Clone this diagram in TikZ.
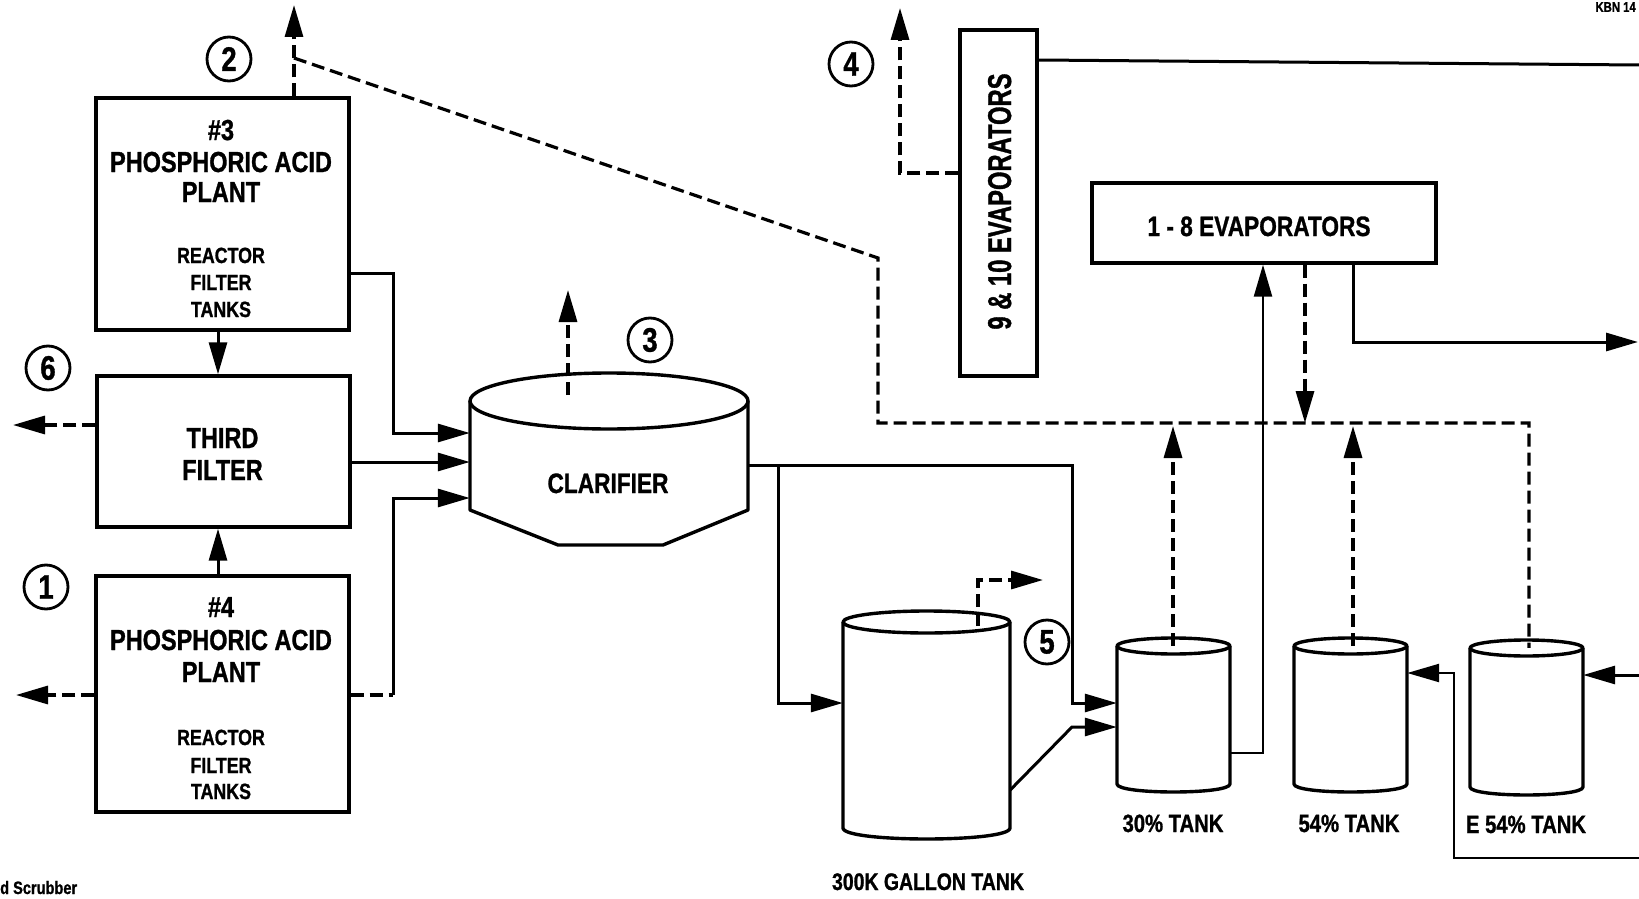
\documentclass[tikz,border=0pt]{standalone}
\usepackage{fontspec}
\setmainfont{Liberation Sans}
\newfontfamily\cb{Liberation Sans}[FakeStretch=0.81, FakeBold=1]
\newfontfamily\cbn{Liberation Sans}[FakeStretch=0.72, FakeBold=1]
\usetikzlibrary{arrows.meta,fit}
\newcommand\drawcyl[6]{%
  \node[fit={(#2,#4) (#3,#5)}, inner sep=0pt] (#1) {};
  \draw[vessel] (#2,#4) -- (#2,#5) .. controls (#2,{#5+1.333*#6}) and (#3,{#5+1.333*#6}) .. (#3,#5) -- (#3,#4);
  \draw[vessel] ({(#2+#3)/2},#4) ellipse [x radius={(#3-#2)/2}, y radius=#6];
}
\begin{document}
\begin{tikzpicture}[x=1pt,y=-1pt,
  box/.style={draw, line width=3.4pt, inner sep=0pt},
  vessel/.style={line width=3.4pt, line join=round},
  pipe/.style={line width=3pt},
  thinpipe/.style={line width=2.4pt},
  dpipe/.style={line width=3.2pt, dash pattern=on 13pt off 6pt},
  arrowend/.style={-{Triangle[length=32pt,width=18pt]}},
  big/.style={font=\cb\bfseries\fontsize{29}{29}\selectfont, inner sep=0pt, anchor=base},
  small/.style={font=\cb\bfseries\fontsize{22}{22}\selectfont, inner sep=0pt, anchor=base},
  lbl/.style={font=\cb\bfseries\fontsize{25}{25}\selectfont, inner sep=0pt, anchor=base},
  num/.style={draw, circle, line width=2.8pt, minimum size=44pt, inner sep=0pt, font=\cb\bfseries\fontsize{34}{34}\selectfont}
]
\path[use as bounding box] (0,0) rectangle (1639,899);
\clip (0,0) rectangle (1639,899);

% ---------- boxes ----------
\node[box, minimum width=253pt, minimum height=232pt] (p3) at (222.5,214) {};
\node[box, minimum width=253pt, minimum height=151pt] (tf) at (223.5,451.5) {};
\node[box, minimum width=253pt, minimum height=236pt] (p4) at (222.5,694) {};
\node[box, minimum width=77pt, minimum height=346pt] (e910) at (998.5,203) {};
\node[box, minimum width=344pt, minimum height=80pt] (e18) at (1264,223) {};

% ---------- box texts ----------
\node[big] (t3a) at (221,140) {\#3};
\node[big] (t3b) at (221,172) {PHOSPHORIC ACID};
\node[big] (t3c) at (221,202) {PLANT};
\node[small] (t3d) at (221,263) {REACTOR};
\node[small] (t3e) at (221,290) {FILTER};
\node[small] (t3f) at (221,317) {TANKS};

\node[big] (tfa) at (222.5,448) {THIRD};
\node[big] (tfb) at (222.5,480) {FILTER};

\node[big] (t4a) at (221,617) {\#4};
\node[big] (t4b) at (221,650) {PHOSPHORIC ACID};
\node[big] (t4c) at (221,682) {PLANT};
\node[small] (t4d) at (221,745) {REACTOR};
\node[small] (t4e) at (221,773) {FILTER};
\node[small] (t4f) at (221,799) {TANKS};

\node[font=\cbn\bfseries\fontsize{33}{33}\selectfont, inner sep=0pt, anchor=base, rotate=90] (te910) at (1011,201.5) {9 \& 10 EVAPORATORS};
\node[font=\cb\bfseries\fontsize{28}{28}\selectfont, inner sep=0pt, anchor=base] (te18) at (1259,236) {1 - 8 EVAPORATORS};

% ---------- clarifier ----------
\node[fit={(470,401) (748,510)}, inner sep=0pt] (clar) {};
\draw[vessel] (470,401) -- (470,510) -- (558,545) -- (663,545) -- (748,510) -- (748,401);
\draw[vessel] (609,401) ellipse [x radius=139, y radius=28];
\node[font=\cb\bfseries\fontsize{28}{28}\selectfont, inner sep=0pt, anchor=base] (tclar) at (608,493) {CLARIFIER};

% ---------- tanks ----------
\drawcyl{tk300}{843}{1010}{622}{828}{11}
\drawcyl{tk30}{1117}{1230}{646}{784}{8}
\drawcyl{tk54}{1294}{1407}{646}{784}{8}
\drawcyl{tkE}{1470}{1583}{648}{787}{8}
\node[font=\cb\bfseries\fontsize{24}{24}\selectfont, inner sep=0pt, anchor=base] (l300) at (928,890) {300K GALLON TANK};
\node[lbl] (l30) at (1173,832) {30\% TANK};
\node[lbl] (l54) at (1349,832) {54\% TANK};
\node[lbl] (lE) at (1526,833) {E 54\% TANK};

% ---------- numbered circles ----------
\node[num] (n2) at (229,59) {2};
\node[num] (n6) at (48,368) {6};
\node[num] (n1) at (46,587) {1};
\node[num] (n3) at (650,340) {3};
\node[num] (n4) at (851,64) {4};
\node[num] (n5) at (1047,642) {5};

% ---------- connectors ----------
\draw[pipe, arrowend] (218,0 |- p3.south) -- (218,0 |- tf.north);
\draw[pipe, arrowend] (218,0 |- p4.north) -- (218,0 |- tf.south);
\coordinate (o6) at (13,425);
\draw[dpipe, arrowend] (tf.west |- o6) -- (o6);
\coordinate (o1) at (16,695);
\draw[dpipe, arrowend] (p4.west |- o1) -- (o1);

\draw[pipe, arrowend] (p3.east |- 0,273) -- (393,273) -- (393,433) -- (clar.west |- 0,433);
\draw[pipe, arrowend] (tf.east |- 0,462) -- (clar.west |- 0,462);
\draw[dpipe] (p4.east |- 0,695) -- (393,695);
\draw[pipe, arrowend] (393,695) -- (393,498) -- (clar.west |- 0,498);

\coordinate (o2) at (294,5);
\draw[dpipe, arrowend] (p3.north -| o2) -- (o2);
\coordinate (d0) at (294,58);
\draw[dpipe] (d0) -- (878,258) -- (878,423) -- (1529,423) -- (1529,0 |- tkE.north);

\draw[dpipe, arrowend] (568,395) -- (568,290);

\draw[pipe, arrowend] (clar.east |- 0,465) -- (1072,465) -- (1072,703) -- (tk30.west |- 0,703);
\draw[pipe, arrowend] (778,465) -- (778,703) -- (tk300.west |- 0,703);
\draw[pipe, arrowend] (tk300.east |- 0,790) -- (1072,727) -- (tk30.west |- 0,727);
\draw[dpipe, arrowend] (978,626) -- (978,580) -- (1043,580);

\draw[thinpipe, arrowend] (tk30.east |- 0,753) -- (1263,753) -- (1263,0 |- e18.south);
\draw[dpipe, arrowend] (1173,0 |- tk30.north) -- (1173,426);
\draw[dpipe, arrowend] (1353,0 |- tk54.north) -- (1353,426);
\draw[dpipe, arrowend] (1305,0 |- e18.south) -- (1305,423);
\draw[pipe, arrowend] (1353,0 |- e18.south) -- (1353,342) -- (1638,342);

\draw[pipe] (e910.east |- 0,60) -- (1639,65);
\draw[dpipe, arrowend] (e910.west |- 0,173) -- (900,173) -- (900,8);

\draw[thinpipe, arrowend] (1639,858) -- (1454,858) -- (1454,673) -- (tk54.east |- 0,673);
\draw[pipe, arrowend] (1639,675) -- (tkE.east |- 0,675);

% ---------- marginal texts ----------
\node[font=\cb\bfseries\fontsize{14}{14}\selectfont, inner sep=0pt, anchor=north east] (kbn) at (1636,2) {KBN 14};
\node[font=\cb\bfseries\fontsize{18}{18}\selectfont, inner sep=0pt, anchor=base west] (scr) at (0,894) {d Scrubber};
\end{tikzpicture}
\end{document}
